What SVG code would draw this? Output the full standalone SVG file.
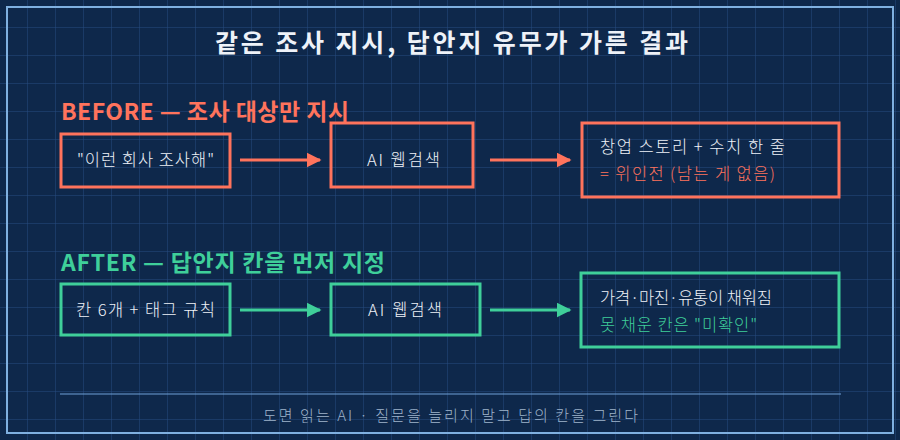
<svg xmlns="http://www.w3.org/2000/svg" width="900" height="440" viewBox="0 0 900 440">
<defs>
<pattern id="grid" width="28" height="28" patternUnits="userSpaceOnUse"><path d="M28 0V28M0 28H28" fill="none" stroke="#264b80" stroke-width="1"/></pattern>
<marker id="ar" viewBox="0 0 10 10" refX="9" refY="5" markerWidth="5" markerHeight="5" orient="auto"><path d="M0 0L10 5L0 10z" fill="#ff735c"/></marker>
<marker id="ag" viewBox="0 0 10 10" refX="9" refY="5" markerWidth="5" markerHeight="5" orient="auto"><path d="M0 0L10 5L0 10z" fill="#3fcf9a"/></marker>
</defs>
<style>
text{font-family:"Noto Sans CJK KR","Noto Sans",sans-serif}
.r{fill:none;stroke:#ff735c;stroke-width:3}
.g{fill:none;stroke:#3fcf9a;stroke-width:3}
.t{fill:#eef2f8;font-size:16.5px;font-weight:300}
.h{font-size:23px;font-weight:bold}
</style>
<rect width="900" height="440" fill="#0e284b"/>
<rect width="900" height="440" fill="url(#grid)"/>
<rect x="7" y="7" width="886" height="426" fill="none" stroke="#7fb0e0" stroke-width="2"/>
<text x="215" y="52" font-size="25" font-weight="bold" fill="#eef2f8" textLength="473" lengthAdjust="spacing">같은 조사 지시, 답안지 유무가 가른 결과</text>
<text x="61" y="120" class="h" fill="#ff735c" textLength="288" lengthAdjust="spacing">BEFORE — 조사 대상만 지시</text>
<text x="61" y="271" class="h" fill="#3fcf9a" textLength="324" lengthAdjust="spacing">AFTER — 답안지 칸을 먼저 지정</text>
<g id="connectors">
<line x1="240" y1="160" x2="320" y2="160" stroke="#ff735c" stroke-width="3" marker-end="url(#ar)"/>
<line x1="490" y1="160" x2="570" y2="160" stroke="#ff735c" stroke-width="3" marker-end="url(#ar)"/>
<line x1="240" y1="310" x2="320" y2="310" stroke="#3fcf9a" stroke-width="3" marker-end="url(#ag)"/>
<line x1="490" y1="310" x2="570" y2="310" stroke="#3fcf9a" stroke-width="3" marker-end="url(#ag)"/>
</g>
<g id="b1"><rect x="61" y="134" width="169" height="53" class="r"/><text x="77" y="166" class="t" textLength="137" lengthAdjust="spacing">"이런 회사 조사해"</text></g>
<g id="b2"><rect x="331" y="123" width="142" height="64" class="r"/><text x="367" y="166" class="t" textLength="73" lengthAdjust="spacing">AI 웹검색</text></g>
<g id="b3"><rect x="582" y="123" width="257" height="74" class="r"/><text x="600" y="153" class="t" textLength="185" lengthAdjust="spacing">창업 스토리 + 수치 한 줄</text><text x="600" y="180" class="t" style="fill:#ff735c" textLength="175" lengthAdjust="spacing">= 위인전 (남는 게 없음)</text></g>
<g id="a1"><rect x="61" y="284" width="169" height="51" class="g"/><text x="76" y="316" class="t" textLength="139" lengthAdjust="spacing">칸 6개 + 태그 규칙</text></g>
<g id="a2"><rect x="331" y="284" width="149" height="51" class="g"/><text x="368" y="316" class="t" textLength="74" lengthAdjust="spacing">AI 웹검색</text></g>
<g id="a3"><rect x="581" y="273" width="258" height="74" class="g"/><text x="600" y="304" class="t" textLength="172" lengthAdjust="spacing">가격·마진·유통이 채워짐</text><text x="600" y="331" class="t" style="fill:#3fcf9a" textLength="157" lengthAdjust="spacing">못 채운 칸은 "미확인"</text></g>
<line x1="60" y1="394" x2="841" y2="394" stroke="#6fa0d8" stroke-width="1.2"/>
<text x="263" y="421" font-size="15" font-weight="300" fill="#9fb4cc" textLength="375" lengthAdjust="spacing">도면 읽는 AI · 질문을 늘리지 말고 답의 칸을 그린다</text>
</svg>
